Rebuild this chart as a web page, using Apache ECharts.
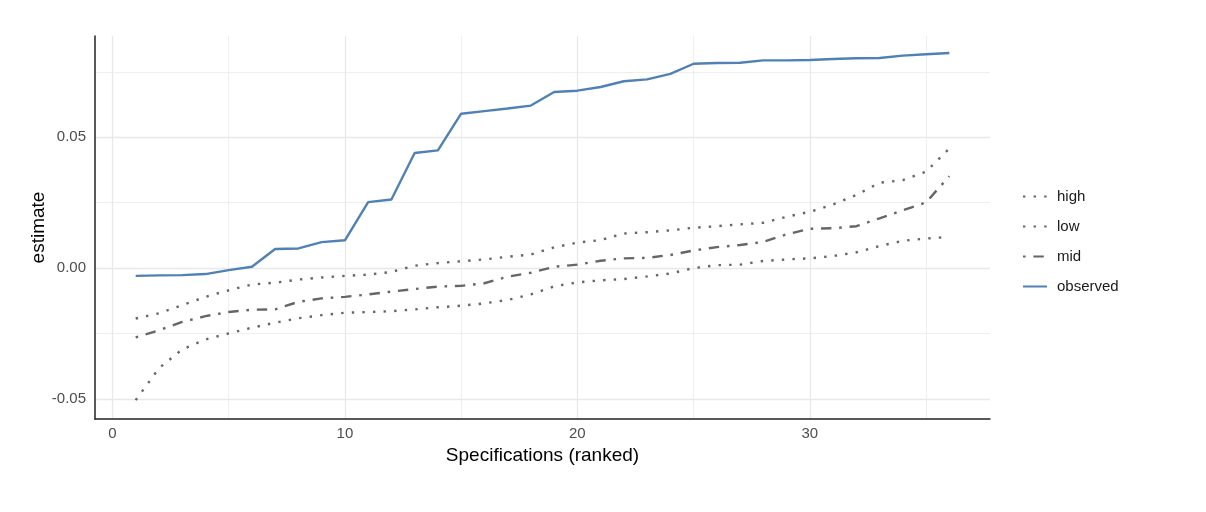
<!DOCTYPE html>
<html>
<head>
<meta charset="utf-8">
<script src="https://cdn.jsdelivr.net/npm/echarts@6/dist/echarts.min.js"></script>
<style>
html,body{margin:0;padding:0;background:#fff;}
#chart{width:1206px;height:512px;}
</style>
</head>
<body>
<div id="chart"></div>
<script>
var ranks = [1,2,3,4,5,6,7,8,9,10,11,12,13,14,15,16,17,18,19,20,21,22,23,24,25,26,27,28,29,30,31,32,33,34,35,36];
var observed = [-0.0030,-0.0028,-0.0027,-0.0023,-0.0008,0.0005,0.0073,0.0075,0.0099,0.0106,0.0252,0.0262,0.0440,0.0450,0.0590,0.0600,0.0610,0.0621,0.0673,0.0678,0.0692,0.0714,0.0721,0.0742,0.0781,0.0784,0.0785,0.0794,0.0794,0.0795,0.0799,0.0802,0.0803,0.0812,0.0817,0.0822];
var high = [-0.0193,-0.0173,-0.0142,-0.0110,-0.0085,-0.0063,-0.0056,-0.0044,-0.0036,-0.0030,-0.0025,-0.0015,0.0009,0.0019,0.0026,0.0033,0.0043,0.0052,0.0079,0.0097,0.0107,0.0132,0.0137,0.0144,0.0154,0.0160,0.0167,0.0173,0.0196,0.0215,0.0243,0.0279,0.0326,0.0336,0.0369,0.0457];
var mid = [-0.0265,-0.0238,-0.0206,-0.0184,-0.0168,-0.0159,-0.0158,-0.0129,-0.0116,-0.0110,-0.0101,-0.0090,-0.0080,-0.0071,-0.0068,-0.0058,-0.0033,-0.0018,0.0005,0.0013,0.0028,0.0037,0.0039,0.0050,0.0067,0.0080,0.0088,0.0100,0.0129,0.0150,0.0152,0.0160,0.0190,0.0221,0.0251,0.0351];
var low = [-0.0505,-0.0383,-0.0311,-0.0273,-0.0250,-0.0228,-0.0209,-0.0192,-0.0180,-0.0171,-0.0168,-0.0165,-0.0158,-0.0150,-0.0144,-0.0135,-0.0122,-0.0101,-0.0070,-0.0055,-0.0047,-0.0042,-0.0032,-0.0021,0.0000,0.0011,0.0013,0.0027,0.0033,0.0037,0.0046,0.0060,0.0084,0.0104,0.0113,0.0119];

var xMajorTicks = [0,10,20,30];
var xMinorTicks = [5,15,25,35];
var yMajorTicks = [-0.05,0,0.05];
var yMinorTicks = [-0.025,0.025,0.075];

function pairs(ys){ return ranks.map(function(r,i){ return [r, ys[i]]; }); }

var FONT = '"Liberation Sans", Arial, sans-serif';
var GREY = '#666666';
var BLUE = '#5081b5';
var XMIN = -0.75, XMAX = 37.75, YMIN = -0.0577, YMAX = 0.0887;

var chart = echarts.init(document.getElementById('chart'), null, {renderer:'canvas'});
chart.setOption({
  animation:false,
  backgroundColor:'#ffffff',
  textStyle:{fontFamily:FONT},
  grid:{left:95, right:216, top:36, bottom:93, containLabel:false},
  legend:{
    orient:'vertical', left:1017, top:184,
    itemWidth:24, itemHeight:14, itemGap:15,
    itemStyle:{color:'rgba(0,0,0,0)', borderColor:'rgba(0,0,0,0)', borderWidth:0},
    textStyle:{fontFamily:FONT, fontSize:15, color:'#1a1a1a', padding:[0,0,0,5]},
    data:['high','low','mid','observed']
  },
  xAxis:[{
    type:'value', min:XMIN, max:XMAX,
    name:'Specifications (ranked)', nameLocation:'middle', nameGap:27,
    nameTextStyle:{fontFamily:FONT, fontSize:19, color:'#000'},
    axisLine:{show:true, onZero:false, lineStyle:{color:'#222', width:1.5}},
    axisTick:{show:false, customValues:xMajorTicks},
    axisLabel:{customValues:xMajorTicks, margin:7, fontFamily:FONT, fontSize:15, color:'#4d4d4d'},
    splitLine:{show:true, lineStyle:{color:'#e8e8e8', width:1.3}}
  },{
    type:'value', min:XMIN, max:XMAX, position:'bottom',
    axisLine:{show:false}, axisLabel:{show:false},
    axisTick:{show:false, customValues:xMinorTicks},
    splitLine:{show:true, lineStyle:{color:'#ebebeb', width:0.8}}
  }],
  yAxis:[{
    type:'value', min:YMIN, max:YMAX,
    name:'estimate', nameLocation:'middle', nameGap:47, nameMoveOverlap:false,
    nameTextStyle:{fontFamily:FONT, fontSize:19, color:'#000'},
    axisLine:{show:true, onZero:false, lineStyle:{color:'#222', width:1.5}},
    axisTick:{show:false, customValues:yMajorTicks},
    axisLabel:{customValues:yMajorTicks, margin:9, fontFamily:FONT, fontSize:15, color:'#4d4d4d',
      formatter:function(v){ return v.toFixed(2); }},
    splitLine:{show:true, lineStyle:{color:'#e8e8e8', width:1.3}}
  },{
    type:'value', min:YMIN, max:YMAX, position:'left',
    axisLine:{show:false}, axisLabel:{show:false},
    axisTick:{show:false, customValues:yMinorTicks},
    splitLine:{show:true, lineStyle:{color:'#ebebeb', width:0.8}}
  }],
  series:[
    {name:'high', type:'line', data:pairs(high), showSymbol:false, symbol:'none', silent:true,
      itemStyle:{color:GREY},
      lineStyle:{color:GREY, width:2.4, type:[2.4,8.2], cap:'butt'}},
    {name:'low', type:'line', data:pairs(low), showSymbol:false, symbol:'none', silent:true,
      itemStyle:{color:GREY},
      lineStyle:{color:GREY, width:2.4, type:[2.4,8.2], cap:'butt'}},
    {name:'mid', type:'line', data:pairs(mid), showSymbol:false, symbol:'none', silent:true,
      itemStyle:{color:GREY},
      lineStyle:{color:GREY, width:2.4, type:[2.6,7.8,10.4,7.8], cap:'butt'}},
    {name:'observed', type:'line', data:pairs(observed), showSymbol:false, symbol:'none', silent:true,
      itemStyle:{color:BLUE},
      lineStyle:{color:BLUE, width:2.4}}
  ]
});
</script>
</body>
</html>
